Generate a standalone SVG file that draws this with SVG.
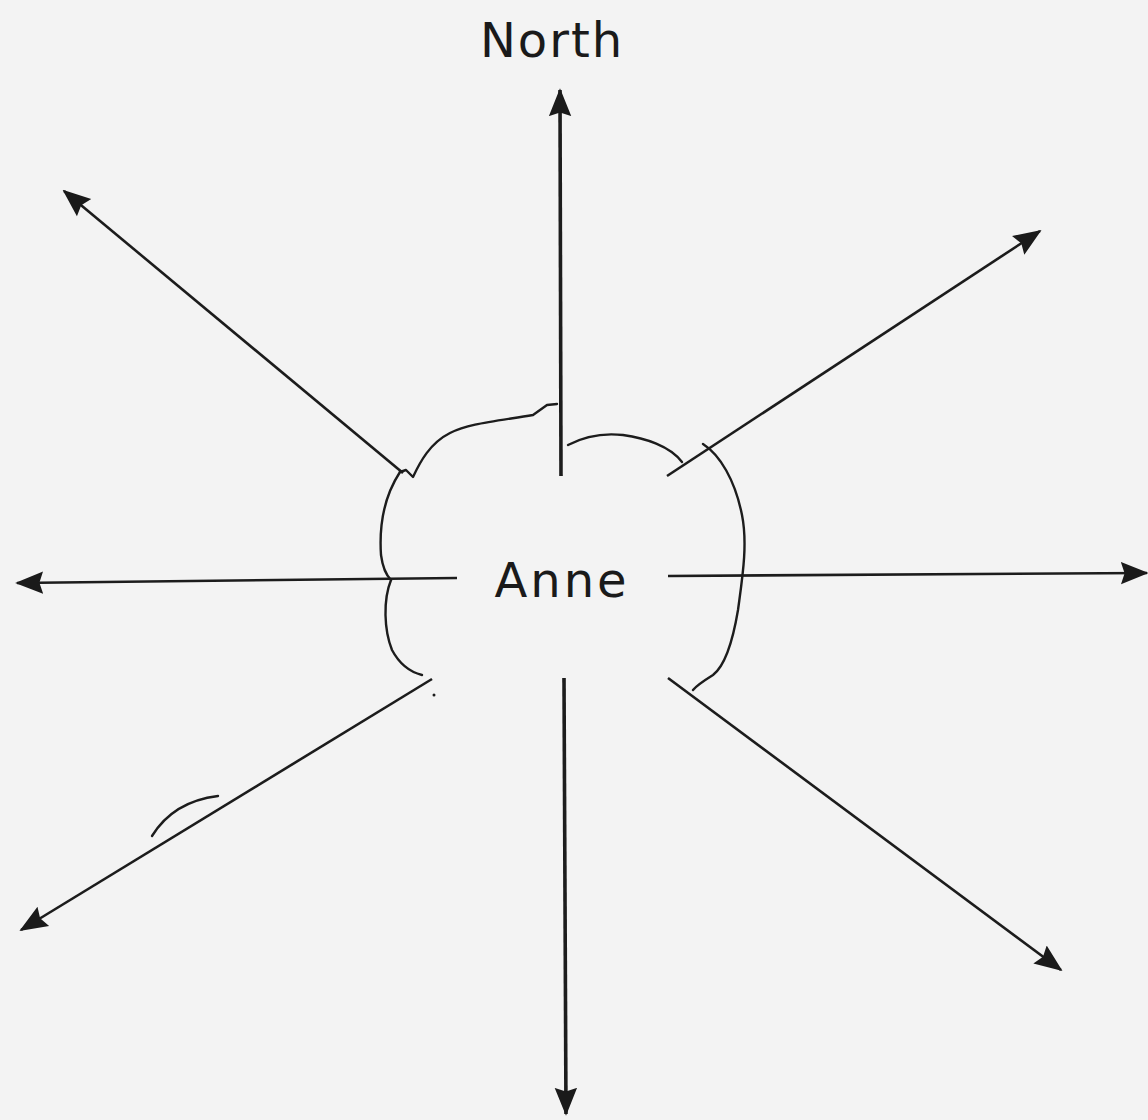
<svg xmlns="http://www.w3.org/2000/svg" width="1148" height="1120" viewBox="0 0 1148 1120">
<defs>
<marker id="ah" viewBox="0 0 30 30" refX="28" refY="15" markerWidth="28" markerHeight="28" markerUnits="userSpaceOnUse" orient="auto">
<path d="M0,3 L30,15 L0,27 L4,15 Z" fill="#1a1a1a"/>
</marker>
</defs>
<style>
.ray{stroke:#1c1c1c;stroke-width:2.6;fill:none;marker-end:url(#ah)}
.thick{stroke-width:3.6}
.cloud{stroke:#1c1c1c;stroke-width:2.4;fill:none;stroke-linecap:round;stroke-linejoin:round}
.lbl{font-family:"DejaVu Sans",Verdana,sans-serif;font-size:48px;fill:#1a1a1a}
</style>
<rect width="1148" height="1120" fill="#f3f3f3"/>
<g id="north-label"><text class="lbl" x="552" y="57" text-anchor="middle" letter-spacing="2">North</text></g>
<g id="anne"><text class="lbl" x="562" y="597" text-anchor="middle" letter-spacing="3">Anne</text>
<path class="cloud" d="M400,472 L406,470 L413,477 C420,462 430,443 450,433 C468,424 490,422 533,415 L547,405 L557,404"/>
<path class="cloud" d="M568,445 C585,436 605,433 623,435 C645,438 670,446 682,462"/>
<path class="cloud" d="M703,444 C720,455 735,480 742,515 C748,545 742,580 738,610 C733,640 726,665 713,675 C705,680 697,685 693,690"/>
<path class="cloud" d="M400,472 C385,495 379,525 381,555 C383,570 388,577 391,580"/>
<path class="cloud" d="M391,580 C383,600 384,630 392,650 C400,665 410,672 422,675"/>
</g>
<g id="connectors">
<line class="ray thick" x1="561" y1="476" x2="560" y2="90"/>
<line class="ray thick" x1="564" y1="678" x2="566" y2="1114"/>
<line class="ray" x1="457" y1="578" x2="17" y2="583"/>
<line class="ray" x1="668" y1="576" x2="1147" y2="573"/>
<line class="ray" x1="403" y1="473" x2="64" y2="191"/>
<line class="ray" x1="667" y1="476" x2="1040" y2="231"/>
<line class="ray" x1="432" y1="679" x2="21" y2="930"/>
<line class="ray" x1="668" y1="678" x2="1061" y2="970"/>
</g>
<path class="cloud" d="M152,836 C165,815 185,800 218,796" stroke-width="2"/>
<circle cx="434" cy="695" r="1.5" fill="#1c1c1c"/>
</svg>
